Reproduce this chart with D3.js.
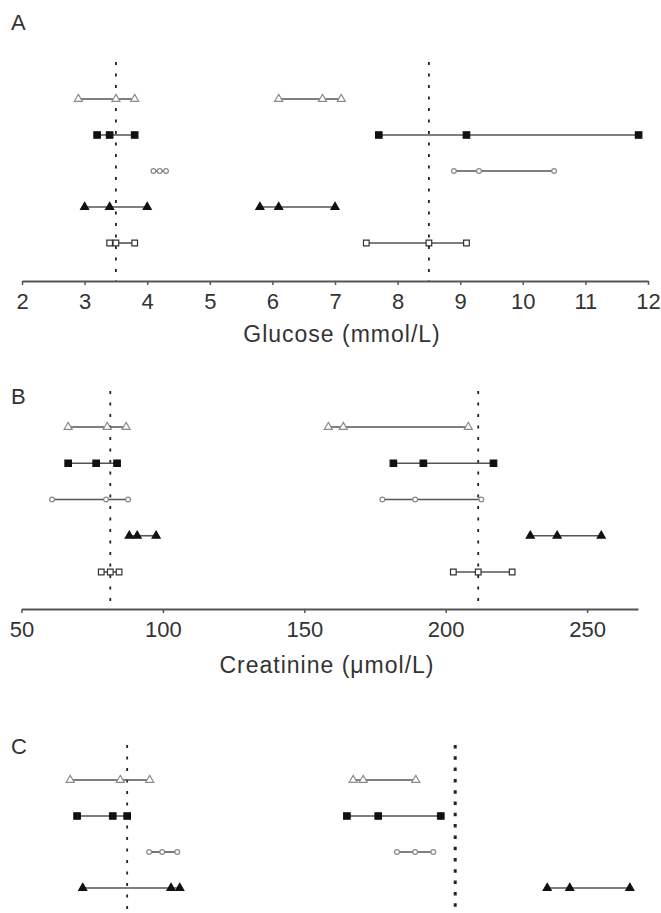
<!DOCTYPE html>
<html>
<head>
<meta charset="utf-8">
<script src="https://cdn.jsdelivr.net/npm/d3@7"></script>
<style>
  html, body { margin: 0; padding: 0; background: #fff; }
  svg { display: block; font-family: "Liberation Sans", Arial, Helvetica, sans-serif; }
</style>
</head>
<body>
<div id="chart"></div>
<script>
// Panel A: glucose (mmol/L), each row = [low group, high group], each group = 3 points
const glucoseLow  = [[2.9, 3.5, 3.8], [3.2, 3.4, 3.8], [4.1, 4.2, 4.3], [3.0, 3.4, 4.0], [3.4, 3.5, 3.8]];
const glucoseHigh = [[6.1, 6.8, 7.1], [7.7, 9.1, 11.85], [8.9, 9.3, 10.5], [5.8, 6.1, 7.0], [7.5, 8.5, 9.1]];
const glucoseRefs  = [3.5, 8.5];
const glucoseTicks = [2, 3, 4, 5, 6, 7, 8, 9, 10, 11, 12];

// Panel B: creatinine (umol/L)
const creatLow  = [[66.5, 80.3, 87.0], [66.5, 76.4, 83.8], [60.8, 79.9, 87.7], [88.1, 90.9, 97.6], [78.2, 81.4, 84.5]];
const creatHigh = [[158.5, 163.8, 208.0], [181.5, 192.1, 216.9], [177.6, 189.2, 212.6], [229.9, 239.4, 255.0], [202.7, 211.5, 223.5]];
const creatRefs  = [81.4, 211.5];
const creatTicks = [50, 100, 150, 200, 250];

// Panel C: axis is cut off in the figure, values on an assumed scale
const panelCLow  = [[2.77, 3.57, 4.04], [2.88, 3.45, 3.68], [4.03, 4.24, 4.48], [2.97, 4.38, 4.52]];
const panelCHigh = [[7.29, 7.45, 8.29], [7.19, 7.69, 8.69], [7.99, 8.28, 8.57], [10.39, 10.75, 11.71]];
const panelCRefs = [3.68, 8.92];

// marker style per row (same order in every panel)
const rowStyles = [
  { shape: d3.symbolTriangle, size: 28, fill: '#fff', stroke: '#8a8a8a' },
  { shape: d3.symbolSquare,   size: 42, fill: '#111', stroke: '#111' },
  { shape: d3.symbolCircle,   size: 18, fill: '#fff', stroke: '#8a8a8a' },
  { shape: d3.symbolTriangle, size: 28, fill: '#111', stroke: '#111' },
  { shape: d3.symbolSquare,   size: 32, fill: '#fff', stroke: '#333' },
];

const W = 661, H = 913;
const svg = d3.select('#chart').append('svg')
  .attr('width', W).attr('height', H)
  .attr('viewBox', `0 0 ${W} ${H}`);

function drawPanel(cfg) {
  const g = svg.append('g');
  const x = d3.scaleLinear().domain(cfg.domain).range(cfg.range);
  const y = d3.scalePoint().domain(d3.range(5)).range(cfg.rowRange);

  // panel letter
  g.append('text')
    .attr('x', 11).attr('y', cfg.labelY)
    .attr('font-size', 22).style('fill', '#333')
    .text(cfg.label);

  // reference (dotted) lines
  cfg.refs.forEach((v, i) => {
    const heavy = cfg.heavyRef && i === 1;
    g.append('line')
      .attr('x1', x(v)).attr('x2', x(v))
      .attr('y1', cfg.refTop).attr('y2', cfg.refBottom)
      .attr('stroke', '#222')
      .attr('stroke-width', heavy ? 3 : 1.8)
      .attr('stroke-dasharray', heavy ? '3.5,7.8' : '3,8.5');
  });

  // rows: connecting lines + markers
  [cfg.low, cfg.high].forEach(groups => {
    groups.forEach((vals, r) => {
      const st = rowStyles[r];
      g.append('line')
        .attr('x1', x(d3.min(vals))).attr('x2', x(d3.max(vals)))
        .attr('y1', y(r)).attr('y2', y(r))
        .attr('stroke', '#555').attr('stroke-width', 1.6);
      g.selectAll(null)
        .data(vals)
        .enter().append('path')
        .attr('transform', d => `translate(${x(d)},${y(r)})`)
        .attr('d', d3.symbol().type(st.shape).size(st.size))
        .attr('fill', st.fill)
        .attr('stroke', st.stroke)
        .attr('stroke-width', 1.2);
    });
  });

  if (!cfg.ticks) return;

  // x axis
  const axis = g.append('g')
    .attr('transform', `translate(0,${cfg.axisY})`)
    .call(d3.axisBottom(x).tickValues(cfg.ticks).tickSize(4).tickSizeOuter(0).tickPadding(8).tickFormat(d3.format('d')));
  axis.select('.domain').attr('stroke', '#555').attr('stroke-width', 2);
  axis.selectAll('.tick line').attr('stroke', '#555').attr('stroke-width', 1.5);
  axis.selectAll('.tick text')
    .attr('font-size', 22)
    .attr('font-family', '"Liberation Sans", Arial, sans-serif')
    .style('fill', '#333');

  g.append('text')
    .attr('x', cfg.titleX).attr('y', cfg.titleY)
    .attr('text-anchor', 'middle')
    .attr('font-size', 23)
    .attr('letter-spacing', 1)
    .style('fill', '#333')
    .text(cfg.title);
}

drawPanel({
  label: 'A', labelY: 30,
  domain: [2, 12], range: [22, 648],
  rowRange: [99, 243],
  refs: glucoseRefs, refTop: 62, refBottom: 281,
  low: glucoseLow, high: glucoseHigh,
  ticks: glucoseTicks, axisY: 281,
  title: 'Glucose (mmol/L)', titleX: 342, titleY: 342,
});

drawPanel({
  label: 'B', labelY: 404,
  domain: [50, 268], range: [21.5, 638],
  rowRange: [427, 572],
  refs: creatRefs, refTop: 391, refBottom: 609,
  low: creatLow, high: creatHigh,
  ticks: creatTicks, axisY: 609,
  title: 'Creatinine (\u03bcmol/L)', titleX: 327, titleY: 673,
});

drawPanel({
  label: 'C', labelY: 754,
  domain: [2, 12], range: [22, 648],
  rowRange: [780, 924],
  refs: panelCRefs, refTop: 745, refBottom: 913,
  heavyRef: true,
  low: panelCLow, high: panelCHigh,
});
</script>
</body>
</html>
